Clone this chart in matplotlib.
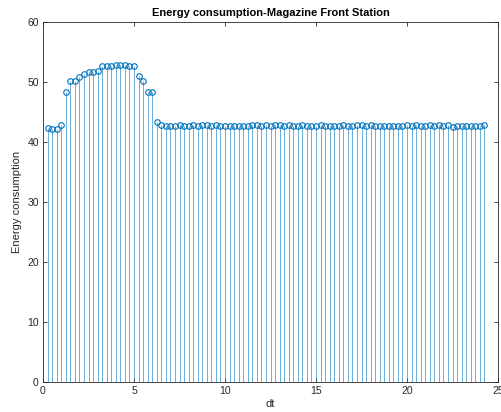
import numpy as np
import matplotlib
matplotlib.use('Agg')
import matplotlib.pyplot as plt

plt.rcParams['font.family'] = ['Liberation Sans', 'DejaVu Sans']

# energy per time step (dt = 0.25)
dt_step = 0.25
energy = [
    42.3, 42.2, 42.2, 42.8, 48.3, 50.1, 50.2, 50.9, 51.4, 51.6,
    51.6, 51.8, 52.6, 52.7, 52.7, 52.8, 52.8, 52.8, 52.7, 52.7,
    51.0, 50.2, 48.4, 48.3, 43.4, 42.9,
    42.7, 42.6, 42.7, 42.8, 42.7, 42.7, 42.8, 42.7, 42.9, 42.8,
    42.6, 42.9, 42.7, 42.6, 42.7, 42.7, 42.6, 42.7, 42.6, 42.8,
    42.9, 42.7, 42.8, 42.7, 42.8, 42.9, 42.7, 42.8, 42.6, 42.7,
    42.8, 42.7, 42.7, 42.6, 42.8, 42.7, 42.7, 42.6, 42.7, 42.8,
    42.7, 42.6, 42.9, 42.8, 42.7, 42.9, 42.6, 42.7, 42.6, 42.7,
    42.7, 42.6, 42.7, 42.8, 42.7, 42.8, 42.7, 42.6, 42.8, 42.7,
    42.9, 42.6, 42.8, 42.5, 42.7, 42.6, 42.7, 42.6, 42.7, 42.6,
    42.9,
]
dt = dt_step * np.arange(1, len(energy) + 1)

matlab_blue = '#0072BD'
axis_col = '#262626'

fig = plt.figure(figsize=(5.02, 4.12), dpi=100)
ax = fig.add_axes([43 / 502, 30 / 412, 455 / 502, 360 / 412])

markers, stems, base = ax.stem(dt, energy, linefmt='-', markerfmt='o', basefmt=' ')
plt.setp(stems, color=matlab_blue, linewidth=0.5, alpha=0.8)
plt.setp(markers, markeredgecolor=matlab_blue, markerfacecolor='none',
         markersize=4, markeredgewidth=0.8)

ax.set_xlim(0, 25)
ax.set_ylim(0, 60)
ax.set_xticks([0, 5, 10, 15, 20, 25])
ax.set_yticks([0, 10, 20, 30, 40, 50, 60])

ax.tick_params(direction='in', top=True, right=True, length=3, width=0.6,
               colors=axis_col, labelsize=7.5, pad=3)
for sp in ax.spines.values():
    sp.set_color(axis_col)
    sp.set_linewidth(0.6)

ax.set_title('Energy consumption-Magazine Front Station', fontsize=8,
             fontweight='bold', pad=4, color='black')
ax.set_xlabel('dt', fontsize=8, labelpad=2, color=axis_col)
ax.set_ylabel('Energy consumption', fontsize=8, labelpad=4, color=axis_col)

fig.savefig('out.png', dpi=100)
